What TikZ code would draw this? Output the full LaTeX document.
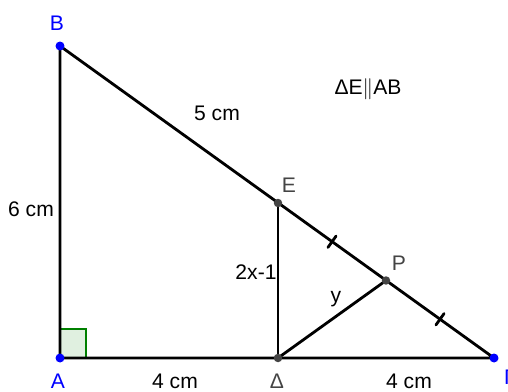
\documentclass[tikz,border=0pt]{standalone}
\usepackage{fontspec}
\setmainfont{Liberation Sans}
\usepackage{tikz}
\usetikzlibrary{calc}
\definecolor{ptblue}{RGB}{0,0,255}
\definecolor{ptgray}{RGB}{68,68,68}
\definecolor{rtgreen}{RGB}{0,128,0}

\begin{document}
\begin{tikzpicture}[x=0.02cm, y=-0.02cm,
    seg/.style={line width=1.6pt, line cap=round},
    bluept/.style={circle, fill=ptblue, inner sep=0pt, minimum size=0.18cm},
    graypt/.style={circle, fill=ptgray, inner sep=0pt, minimum size=0.17cm},
    bluelbl/.style={text=ptblue, inner sep=0pt},
    graylbl/.style={text=ptgray, inner sep=0pt},
    lbl/.style={inner sep=0pt},
    every node/.append style={font=\fontsize{12pt}{14pt}\selectfont}]
    \useasboundingbox (0,0) rectangle (508,392);

    % the points
    \coordinate (B) at (60,46);
    \coordinate (A) at (60,358);
    \coordinate (D) at (278,358);
    \coordinate (G) at (494,358);
    \coordinate (E) at (278,203);
    \coordinate (P) at ($(E)!0.5!(G)$);

    % right angle at A
    \filldraw[rtgreen, fill=rtgreen!12, line width=0.6pt] (A) rectangle (86,329);

    % sides
    \draw[seg] (A) -- (B) -- (G) -- cycle;
    \draw[seg] (D) -- (E);
    \draw[seg] (D) -- (P);

    % equal marks on EP and PG
    \coordinate (m1) at ($(E)!0.5!(P)$);
    \coordinate (m2) at ($(P)!0.5!(G)$);
    \draw[seg] ($(m1)!0.14cm!90:(P)$) -- ($(m1)!0.14cm!-90:(P)$);
    \draw[seg] ($(m2)!0.14cm!90:(G)$) -- ($(m2)!0.14cm!-90:(G)$);

    % points
    \node[bluept] (pB) at (B) {};
    \node[bluept] (pA) at (A) {};
    \node[bluept] (pG) at (G) {};
    \node[graypt] (pE) at (E) {};
    \node[graypt] (pD) at (D) {};
    \node[graypt] (pP) at (P) {};

    % point names
    \node[bluelbl] (lB) at (57,23) {B};
    \node[bluelbl] (lA) at (58,381) {A};
    \node[bluelbl] (lG) at (510,377) {Γ};
    \node[graylbl] (lD) at (277,381) {Δ};
    \node[graylbl] (lE) at (289,185) {E};
    \node[graylbl] (lP) at (399,263) {P};

    % lengths
    \node[lbl] (lAB) at (31,209) {6 cm};
    \node[lbl] (lBE) at (217,113) {5 cm};
    \node[lbl] (lDE) at (256,272) {2x-1};
    \node[lbl] (lDP) at (336,299) {y};
    \node[lbl] (lAD) at (175,381) {4 cm};
    \node[lbl] (lDG) at (409,381) {4 cm};
    \node[lbl] (par) at (368,89) {ΔE$\|$AB};
\end{tikzpicture}
\end{document}
